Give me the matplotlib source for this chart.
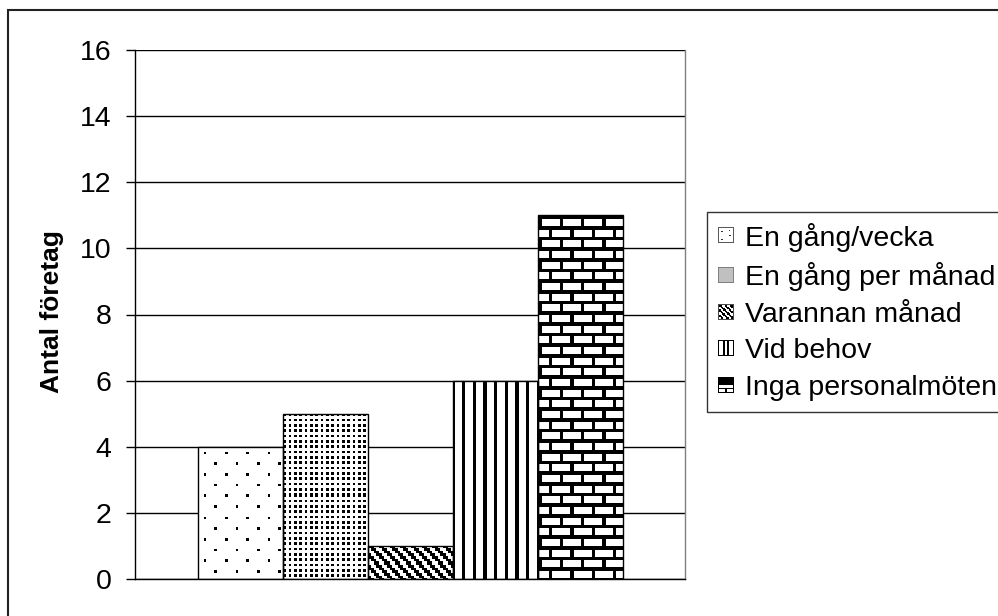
import numpy as np
import matplotlib
matplotlib.use("Agg")
import matplotlib.pyplot as plt
from matplotlib.patches import Patch, Rectangle
from matplotlib.legend_handler import HandlerBase
from matplotlib.image import BboxImage
from matplotlib.transforms import Bbox, TransformedBbox

# ---- data -------------------------------------------------------------
series = ["En gång/vecka", "En gång per månad", "Varannan månad",
          "Vid behov", "Inga personalmöten"]
values = [4, 5, 1, 6, 11]
patterns = ["sparse", "dense", "diag", "vert", "brick"]
yticks = [0, 2, 4, 6, 8, 10, 12, 14, 16]
ylabel = "Antal företag"

# ---- figure / axes ----------------------------------------------------
W, H, DPI = 998, 616, 100
plt.rcParams["font.family"] = ["Liberation Sans", "DejaVu Sans"]
fig = plt.figure(figsize=(W / DPI, H / DPI), dpi=DPI)

ax_l, ax_r, ax_t, ax_b = 135, 685, 50, 579
ax = fig.add_axes([ax_l / W, 1 - ax_b / H, (ax_r - ax_l) / W, (ax_b - ax_t) / H])
ax.set_xlim(0, 1)
ax.set_ylim(0, 16)
ax.set_yticks(yticks)
ax.set_xticks([])
ax.tick_params(axis="y", direction="out", length=6.5, width=1, pad=10.5,
               labelsize=20.5, colors="black")
ax.grid(axis="y", color="black", lw=1)
ax.set_axisbelow(True)
for side in ("left", "bottom"):
    ax.spines[side].set_color("black")
    ax.spines[side].set_linewidth(1)
for side in ("top", "right"):
    ax.spines[side].set_color("#808080")
    ax.spines[side].set_linewidth(1)
ax.spines["top"].set_visible(False)


def texture(kind, w, h):
    """Black-on-white fill pattern, w x h pixels (1 = white)."""
    u = np.arange(w)[None, :] * np.ones((h, 1))
    v = np.arange(h)[:, None] * np.ones((1, w))
    c = 8 / 3.0
    cu = np.floor(u / c).astype(int)
    cv = np.floor(v / c).astype(int)
    if kind == "sparse":
        ink = ((cu % 8 == 2) & (cv % 8 == 2)) | ((cu % 8 == 6) & (cv % 8 == 6))
    elif kind == "dense":
        ink = ((cv % 2 == 0) & (cu % 2 == 0))
    elif kind == "diag":
        ink = ((cu - cv) % 4) < 2
    elif kind == "vert":
        ink = ((u + 2) % (4 * c)) < 3.2
    else:  # brick
        band = np.floor(v / (4 * c)).astype(int)
        ink = (v % (4 * c)) < 3.5
        ink |= ((u + (band % 2) * 4 * c) % (8 * c)) < 3.3
    return np.where(ink, 0.0, 1.0)


n = len(values)
bw = 85 / 550
x0 = (1 - n * bw) / 2
to_px = ax.transData
for i, (val, kind) in enumerate(zip(values, patterns)):
    left = x0 + i * bw
    bar = ax.bar(left, val, width=bw, align="edge", facecolor="none",
                 edgecolor="black", lw=1, zorder=3)[0]
    (px0, py0), (px1, py1) = to_px.transform([(left, 0), (left + bw, val)])
    w = max(int(round(abs(px1 - px0))), 1)
    h = max(int(round(abs(py1 - py0))), 1)
    im = ax.imshow(texture(kind, w, h), cmap="gray", vmin=0, vmax=1,
                   extent=(left, left + bw, 0, val), origin="upper",
                   interpolation="nearest", aspect="auto", zorder=2)
    im.set_clip_path(bar)
ax.set_xlim(0, 1)
ax.set_ylim(0, 16)

fig.text(52 / W, 1 - 312 / H, ylabel, rotation=90, ha="center", va="center",
         fontsize=19, fontweight="bold")

# ---- legend icons -----------------------------------------------------
def icon(kind):
    a = np.ones((12, 12))
    if kind == "sparse":
        for (r, c) in [(3, 2), (3, 3), (6, 8), (6, 9), (9, 3), (9, 2), (2, 8)]:
            a[r, c] = 0.2
        a[[0, -1], :] = 0.35
        a[:, [0, -1]] = 0.35
    elif kind == "dense":
        a[:, :] = 0.75
        a[[0, -1], :] = 0.5
        a[:, [0, -1]] = 0.5
    elif kind == "diag":
        r, c = np.mgrid[0:12, 0:12]
        a = np.where(((c - r) % 4) < 2, 0.0, 1.0)
        a[[0, -1], :] = 0.3
        a[:, [0, -1]] = 0.3
    elif kind == "vert":
        a[:, [0, 4, 7, 11]] = 0.0
        a[[0, -1], :] = 0.0
    else:
        a[0:6, :] = 0.0
        a[6:, [0, 5, 6, 11]] = 0.0
        a[8, :] = 0.0
        a[-1, :] = 0.0
        a[6:8, 5:7] = 1.0
    return a


class IconHandler(HandlerBase):
    def __init__(self, arr):
        super().__init__()
        self.arr = arr

    def create_artists(self, legend, orig_handle, xdescent, ydescent,
                       width, height, fontsize, trans):
        s = 11.0
        bx = -xdescent
        by = -ydescent + (height - s) / 2
        bb = TransformedBbox(Bbox.from_bounds(bx, by, s, s), trans)
        img = BboxImage(bb, cmap="gray", norm=plt.Normalize(0, 1),
                        interpolation="nearest")
        img.set_data(self.arr)
        return [img]


handles = [Patch(facecolor="white", edgecolor="black", label=s) for s in series]
hmap = {h: IconHandler(icon(k)) for h, k in zip(handles, patterns)}
leg = fig.legend(handles=handles, handler_map=hmap, loc="upper left",
                 bbox_to_anchor=(707 / W, 1 - 212 / H), borderaxespad=0,
                 fontsize=20.5, frameon=True, fancybox=False, borderpad=0.38,
                 handlelength=0.55, handletextpad=0.42, labelspacing=0.37)
leg.get_frame().set_edgecolor("black")
leg.get_frame().set_linewidth(1)

# chart-area border (runs off the right and bottom edges)
fig.patches.append(Rectangle((8 / W, -0.05), 1.2, 1 - 10 / H + 0.05,
                             transform=fig.transFigure, fill=False,
                             edgecolor="#222222", lw=1.5))

fig.savefig("out.png", dpi=DPI)
